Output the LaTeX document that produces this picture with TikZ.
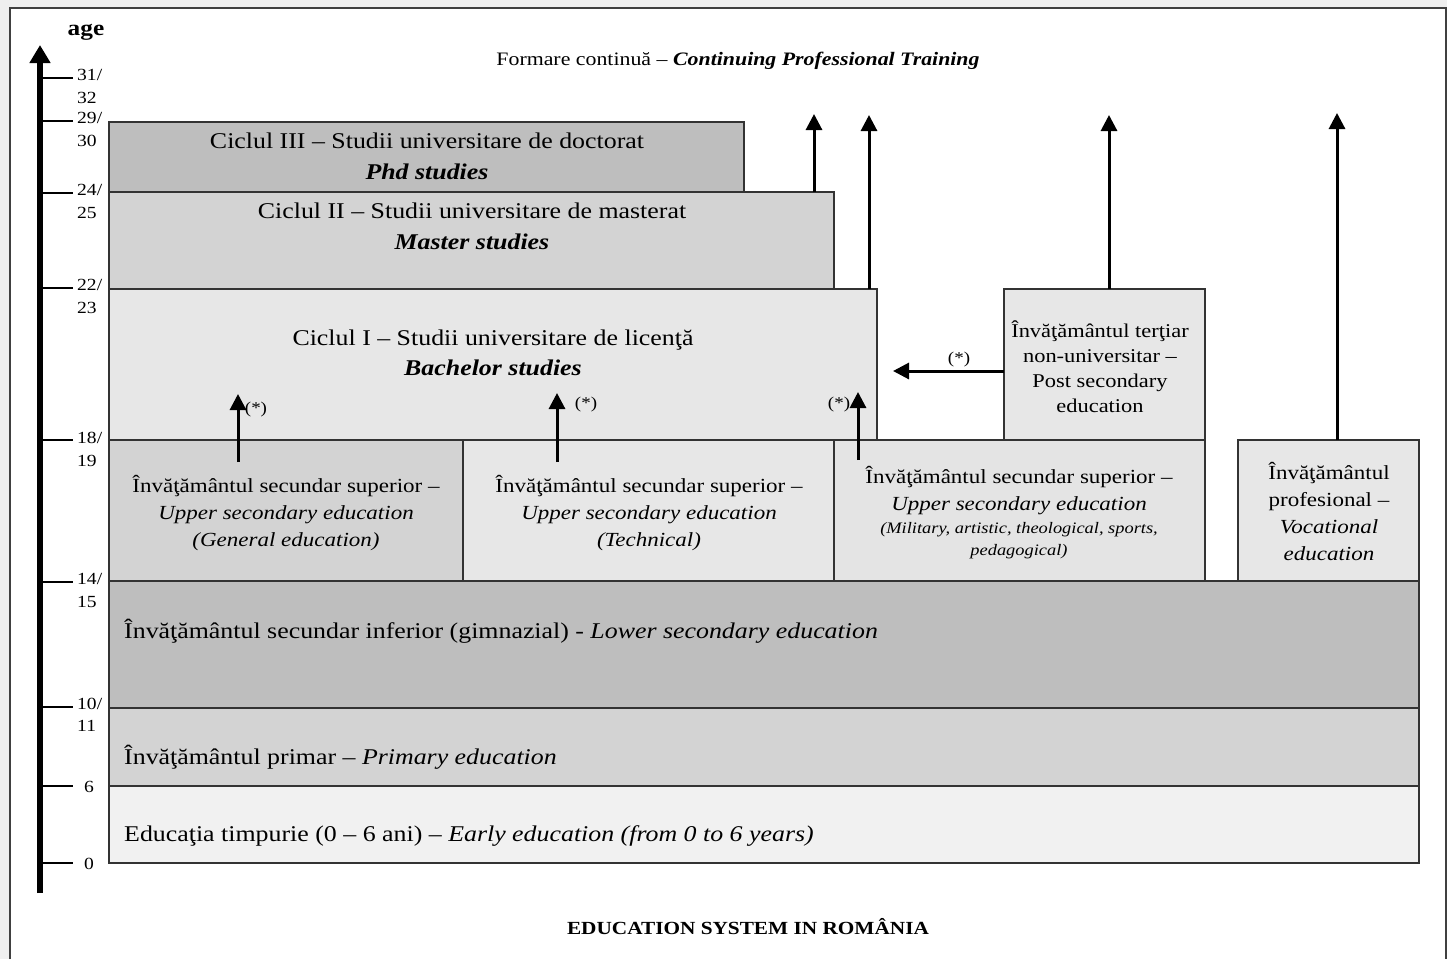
\documentclass[tikz,border=0pt]{standalone}
\usepackage{fontspec}
\setmainfont{Liberation Serif}[FakeStretch=1.15]
\usetikzlibrary{arrows.meta}
\definecolor{cA}{HTML}{BEBEBE}
\definecolor{cB}{HTML}{D3D3D3}
\definecolor{cC}{HTML}{E7E7E7}
\definecolor{cD}{HTML}{F1F1F1}
\definecolor{cE}{HTML}{E4E4E4}
\definecolor{frame}{HTML}{EFEFEF}
\tikzset{
  box/.style={draw=black!80, line width=1.3pt, inner sep=0pt, outer sep=0pt, anchor=north west},
  arr/.style={line width=3pt, -{Triangle[length=16pt,width=16pt]}},
  big/.style={font=\fontsize{22.5}{27}\selectfont, inner sep=0pt, anchor=base},
  mid/.style={font=\fontsize{20}{24}\selectfont, inner sep=0pt, anchor=base},
  psec/.style={font=\fontsize{19.5}{24}\selectfont, inner sep=0pt, anchor=base},
  tiny/.style={font=\fontsize{16}{19}\selectfont\itshape, inner sep=0pt, anchor=base},
  lbl/.style={font=\fontsize{17}{20}\selectfont, inner sep=0pt, anchor=base west},
  star/.style={font=\fontsize{16.5}{19}\selectfont, inner sep=0pt, anchor=base},
  tickline/.style={line width=2pt},
}
\begin{document}
\begin{tikzpicture}[x=1pt,y=-1pt]
\useasboundingbox (0,0) rectangle (1447,959);
\fill[frame] (0,0) rectangle (1447,959);
\fill[white] (10,8) rectangle (1446,959);
\draw[line width=1.2pt, black!75] (10,959) -- (10,8) -- (1446,8) -- (1446,959);

% axis
\coordinate (ax0) at (40,893);
\coordinate (ax1) at (40,45);
\draw[line width=6pt, -{Triangle[length=18pt,width=20pt]}] (ax0) -- (ax1);
\node[font=\fontsize{22}{26}\selectfont\bfseries, inner sep=0pt, anchor=base] (age) at (86,35) {age};
\foreach \y in {78,121,193,288,440,582,707,786,863}
  \draw[tickline] (40,\y) -- (73,\y);
\node[lbl] (l31) at (77,80) {31/};
\node[lbl] (l32) at (77,103) {32};
\node[lbl] (l29) at (77,123) {29/};
\node[lbl] (l30) at (77,146) {30};
\node[lbl] (l24) at (77,195) {24/};
\node[lbl] (l25) at (77,218) {25};
\node[lbl] (l22) at (77,290) {22/};
\node[lbl] (l23) at (77,313) {23};
\node[lbl] (l18) at (77,443) {18/};
\node[lbl] (l19) at (77,466) {19};
\node[lbl] (l14) at (77,584) {14/};
\node[lbl] (l15) at (77,607) {15};
\node[lbl] (l10) at (77,709) {10/};
\node[lbl] (l11) at (77,731) {11};
\node[lbl, anchor=base] (l6) at (89,792) {6};
\node[lbl, anchor=base] (l0) at (89,869) {0};

% title
\node[font=\fontsize{19}{23}\selectfont, inner sep=0pt, anchor=base] (title) at (738,65)
  {Formare continuă – \textbf{\textit{Continuing Professional Training}}};

% boxes
\node[box, fill=cA, minimum width=635pt, minimum height=70pt] (phd) at (109,122) {};
\node[box, fill=cB, minimum width=725pt, minimum height=97pt] (master) at (109,192) {};
\node[box, fill=cC, minimum width=768pt, minimum height=151pt] (bach) at (109,289) {};
\node[box, fill=cC, minimum width=201pt, minimum height=151pt] (post) at (1004,289) {};
\node[box, fill=cB, minimum width=354pt, minimum height=141pt] (gen) at (109,440) {};
\node[box, fill=cC, minimum width=371pt, minimum height=141pt] (tech) at (463,440) {};
\node[box, fill=cE, minimum width=371pt, minimum height=141pt] (mil) at (834,440) {};
\node[box, fill=cC, minimum width=181pt, minimum height=141pt] (voc) at (1238,440) {};
\node[box, fill=cA, minimum width=1310pt, minimum height=127pt] (lower) at (109,581) {};
\node[box, fill=cB, minimum width=1310pt, minimum height=78pt] (prim) at (109,708) {};
\node[box, fill=cD, minimum width=1310pt, minimum height=77pt] (early) at (109,786) {};

% texts
\node[big] (phd1) at (427,148) {Ciclul III – Studii universitare de doctorat};
\node[big] (phd2) at (427,179) {\textbf{\textit{Phd studies}}};
\node[big] (ma1) at (472,218) {Ciclul II – Studii universitare de masterat};
\node[big] (ma2) at (472,249) {\textbf{\textit{Master studies}}};
\node[big] (ba1) at (493,345) {Ciclul I – Studii universitare de licenţă};
\node[big] (ba2) at (493,375) {\textbf{\textit{Bachelor studies}}};

\node[psec] (po1) at (1100,337) {Învăţământul terţiar};
\node[psec] (po2) at (1100,362) {non-universitar –};
\node[psec] (po3) at (1100,387) {Post secondary};
\node[psec] (po4) at (1100,412) {education};

\node[mid] (ge1) at (286,492) {Învăţământul secundar superior –};
\node[mid] (ge2) at (286,519) {\textit{Upper secondary education}};
\node[mid] (ge3) at (286,546) {\textit{(General education)}};
\node[mid] (te1) at (649,492) {Învăţământul secundar superior –};
\node[mid] (te2) at (649,519) {\textit{Upper secondary education}};
\node[mid] (te3) at (649,546) {\textit{(Technical)}};
\node[mid] (mi1) at (1019,483) {Învăţământul secundar superior –};
\node[mid] (mi2) at (1019,510) {\textit{Upper secondary education}};
\node[tiny] (mi3) at (1019,533) {(Military, artistic, theological, sports,};
\node[tiny] (mi4) at (1019,555) {pedagogical)};
\node[mid] (vo1) at (1329,479) {Învăţământul};
\node[mid] (vo2) at (1329,506) {profesional –};
\node[mid] (vo3) at (1329,533) {\textit{Vocational}};
\node[mid] (vo4) at (1329,560) {\textit{education}};

\node[big, anchor=base west] (lo1) at (124,638) {Învăţământul secundar inferior (gimnazial) - \textit{Lower secondary education}};
\node[big, anchor=base west] (pr1) at (124,764) {Învăţământul primar – \textit{Primary education}};
\node[big, anchor=base west] (ea1) at (124,841) {Educaţia timpurie (0 – 6 ani) – \textit{Early education (from 0 to 6 years)}};

% arrows up (continuing training)
\coordinate (tipM) at (814,114);
\coordinate (tipB) at (869,115);
\coordinate (tipP) at (1109,115);
\coordinate (tipV) at (1337,113);
\draw[arr] (master.north -| tipM) -- (tipM);
\draw[arr] (bach.north -| tipB) -- (tipB);
\draw[arr] (post.north -| tipP) -- (tipP);
\draw[arr] (voc.north -| tipV) -- (tipV);

% inner arrows
\coordinate (g0) at (238,462); \coordinate (g1) at (238,394);
\coordinate (t0) at (557,462); \coordinate (t1) at (557,393);
\coordinate (m0) at (858,460); \coordinate (m1) at (858,392);
\coordinate (h1) at (893,371);
\draw[arr] (g0) -- (g1);
\draw[arr] (t0) -- (t1);
\draw[arr] (m0) -- (m1);
\draw[arr] (post.west |- h1) -- (h1);
\node[star] (s1) at (256,413) {(*)};
\node[star] (s2) at (586,408) {(*)};
\node[star] (s3) at (839,408) {(*)};
\node[star] (s4) at (959,363) {(*)};

% caption
\node[font=\fontsize{18.5}{22}\selectfont\bfseries, inner sep=0pt, anchor=base] (cap) at (748,934) {EDUCATION SYSTEM IN ROMÂNIA};
\end{tikzpicture}
\end{document}
